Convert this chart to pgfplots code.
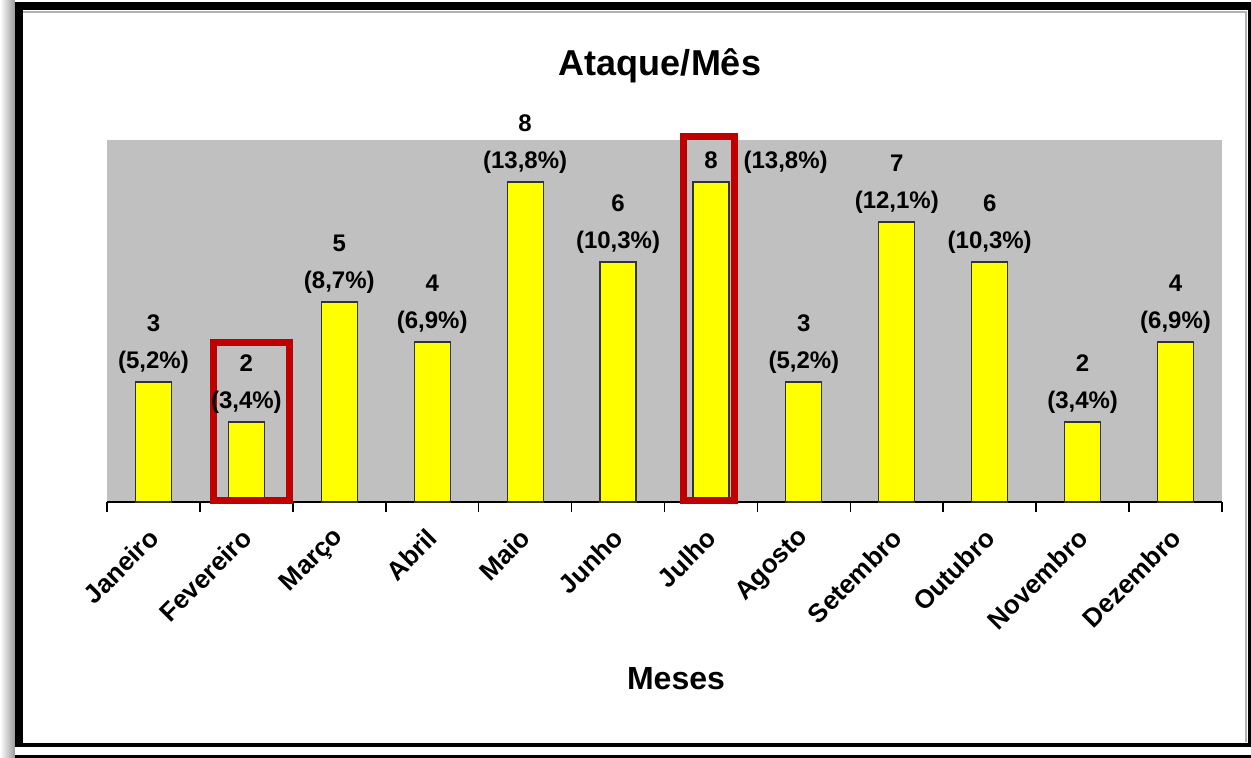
\documentclass[border=0pt]{standalone}
\usepackage{pgfplots}
\pgfplotsset{compat=1.18}
\usepackage{fontspec}
\setmainfont{Liberation Sans}
\definecolor{plotgray}{HTML}{C0C0C0}
\definecolor{baryellow}{HTML}{FFFF00}
\definecolor{boxred}{HTML}{C00000}
\begin{document}
\begin{tikzpicture}
\useasboundingbox (-53.5pt,-128pt) rectangle (572pt,251pt);
% left shadow
\shade[left color=white, right color=black!40] (-53.5pt,-128pt) rectangle (-46pt,251pt);
\begin{axis}[
  scale only axis, width=557.5pt, height=181pt,
  xmin=-0.5, xmax=11.5, ymin=0, ymax=9.05,
  clip=false,
  axis x line*=bottom, axis y line=none,
  x axis line style={-, black, line width=0.8pt},
  axis background/.style={fill=plotgray},
  xtick={0,...,11},
  xticklabels={Janeiro,Fevereiro,Março,Abril,Maio,Junho,Julho,Agosto,Setembro,Outubro,Novembro,Dezembro},
  minor xtick={-0.5,0.5,...,11.5},
  major tick length=0pt, minor tick length=5pt,
  tick align=outside,
  tick style={black, line width=0.8pt},
  xticklabel style={yshift=-15pt, xshift=1pt, rotate=45, anchor=east, inner sep=1pt, font=\bfseries\fontsize{13}{15}\selectfont},
  every node near coord/.append style={font=\bfseries\fontsize{12}{18.5}\selectfont, align=center, inner sep=0pt, yshift=4pt, black},
]
\addplot[ybar, bar width=18pt, fill=baryellow, draw=black!80, line width=0.6pt,
  nodes near coords, point meta=explicit symbolic] coordinates {
  (0,3) [{3\\(5,2\%)}]
  (1,2) [{2\\(3,4\%)}]
  (2,5) [{5\\(8,7\%)}]
  (3,4) [{4\\(6,9\%)}]
  (4,8) [{8\\(13,8\%)}]
  (5,6) [{6\\(10,3\%)}]
  (6,8) [{8\rlap{\hspace{13pt}(13,8\%)}}]
  (7,3) [{3\\(5,2\%)}]
  (8,7) [{7\\(12,1\%)}]
  (9,6) [{6\\(10,3\%)}]
  (10,2) [{2\\(3,4\%)}]
  (11,4) [{4\\(6,9\%)}]
};
\draw[boxred, line width=3.5pt] (axis cs:0.646,0.025) rectangle (axis cs:1.459,3.99);
\draw[boxred, line width=3.5pt] (axis cs:5.699,0.025) rectangle (axis cs:6.253,9.125);
\end{axis}
% title and axis label
\node[font=\bfseries\fontsize{18}{20}\selectfont, anchor=base] at (276.5pt,213pt) {Ataque/Mês};
\node[font=\bfseries\fontsize{16}{18}\selectfont, anchor=base] at (284.5pt,-94pt) {Meses};
% frame
\draw[gray!60, line width=0.6pt] (-42pt,245pt) -- (569.5pt,245pt) -- (569.5pt,-120pt);
\draw[black, line width=4pt] (-44pt,-122.5pt) -- (-44pt,248pt);
\draw[black, line width=4pt] (-46pt,248pt) -- (572pt,248pt);
\draw[black, line width=2pt] (-46pt,-121.5pt) -- (572pt,-121.5pt);
\draw[black, line width=1.5pt] (571.25pt,250pt) -- (571.25pt,-122.5pt);
\fill[black] (-46pt,-126.5pt) rectangle (572pt,-128pt);
\end{tikzpicture}
\end{document}
